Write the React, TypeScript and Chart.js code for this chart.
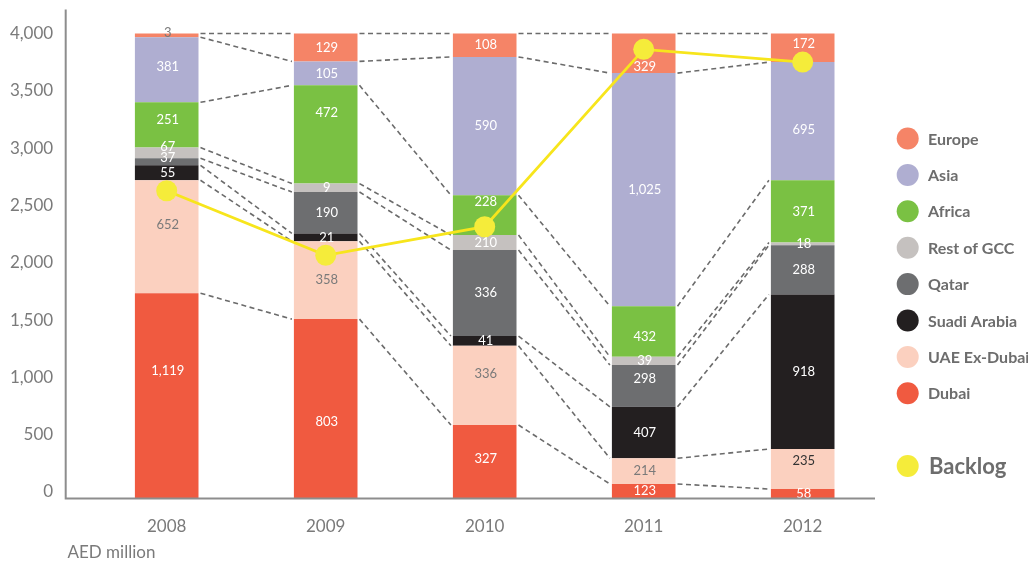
import React, { useEffect, useRef } from 'react';
import { Chart, registerables } from 'chart.js';

Chart.register(...registerables);

// ---- categories & ticks ----
const years = ['2008', '2009', '2010', '2011', '2012'];
const yTicks = [0, 500, 1000, 1500, 2000, 2500, 3000, 3500, 4000];

// ---- values printed on the segments (AED million) ----
const dubai = [1119, 803, 327, 123, 58];
const uaeExDubai = [652, 358, 336, 214, 235];
const saudiArabia = [55, 21, 41, 407, 918];
const qatar = [37, 190, 336, 298, 288];
const restOfGcc = [67, 9, 210, 39, 18];
const africa = [251, 472, 228, 432, 371];
const asia = [381, 105, 590, 1025, 695];
const europe = [3, 129, 108, 329, 172];

// ---- segment heights as drawn in the picture (read on the axis scale) ----
const dubaiBar = [1734, 1508, 584, 70, 26];
const uaeExDubaiBar = [985, 680, 691, 224, 349];
const saudiArabiaBar = [131, 67, 85, 449, 1348];
const qatarBar = [61, 362, 750, 364, 430];
const restOfGccBar = [93, 73, 131, 72, 23];
const africaBar = [395, 857, 348, 442, 543];
const asiaBar = [568, 209, 1206, 2033, 1031];
const europeBar = [33, 244, 205, 346, 250];

// ---- backlog line ----
const backlog = [2628, 2065, 2314, 3861, 3750];

const Y_MIN = -55;
const Y_MAX = 4200;

const series = [
  { name: 'Dubai', values: dubai, bars: dubaiBar, color: '#f05a40' },
  { name: 'UAE Ex-Dubai', values: uaeExDubai, bars: uaeExDubaiBar, color: '#fbd0bf' },
  { name: 'Suadi Arabia', values: saudiArabia, bars: saudiArabiaBar, color: '#231f20' },
  { name: 'Qatar', values: qatar, bars: qatarBar, color: '#6d6e70' },
  { name: 'Rest of GCC', values: restOfGcc, bars: restOfGccBar, color: '#c5c1bf' },
  { name: 'Africa', values: africa, bars: africaBar, color: '#7ac143' },
  { name: 'Asia', values: asia, bars: asiaBar, color: '#afaed1' },
  { name: 'Europe', values: europe, bars: europeBar, color: '#f58467' },
];

// small vertical nudges (px) for a few segment labels
const labelNudge: Record<string, number> = {
  'Europe 2008': -3,
  'Europe 2011': 14,
  'Europe 2012': -4,
  'Asia 2008': -3,
  'Asia 2012': 9,
  'Africa 2008': -5,
  'Africa 2009': -22,
  'Africa 2010': -13,
  'Africa 2011': 5,
  'Rest of GCC 2008': -6,
  'Qatar 2008': -3.5,
  'Qatar 2011': -7,
  'UAE Ex-Dubai 2008': -12,
  'UAE Ex-Dubai 2010': -12,
  'UAE Ex-Dubai 2012': -8,
  'Dubai 2008': -25,
  'Dubai 2009': 13,
  'Dubai 2010': -3,
};

const FONT = 'Lato, "Open Sans", sans-serif';
const GREY = '#7a7a7a';

function labelColor(name: string, yi: number): string {
  if (name === 'UAE Ex-Dubai') return yi === 4 ? '#333333' : GREY;
  if (name === 'Europe' && yi === 0) return GREY;
  return '#ffffff';
}

const decor = {
  id: 'decor',
  beforeDatasetsDraw(chart: any) {
    const ctx = chart.ctx;
    ctx.save();
    ctx.setLineDash([5, 3.5]);
    ctx.lineWidth = 1.6;
    ctx.strokeStyle = '#6b6b6b';
    series.forEach((_s, si) => {
      const meta = chart.getDatasetMeta(si);
      for (let j = 0; j < meta.data.length - 1; j++) {
        const a: any = meta.data[j];
        const b: any = meta.data[j + 1];
        ctx.beginPath();
        ctx.moveTo(a.x + a.width / 2 + 2, a.y);
        ctx.lineTo(b.x - b.width / 2 - 2, b.y);
        ctx.stroke();
      }
    });
    ctx.restore();
  },
  beforeDatasetDraw(chart: any, args: any) {
    if (args.meta.type !== 'line') return;
    const ctx = chart.ctx;
    ctx.save();
    ctx.font = `13px ${FONT}`;
    ctx.textAlign = 'center';
    ctx.textBaseline = 'middle';
    series.forEach((s, si) => {
      const meta = chart.getDatasetMeta(si);
      meta.data.forEach((el: any, yi: number) => {
        const key = `${s.name} ${years[yi]}`;
        const y = (el.y + el.base) / 2 + (labelNudge[key] || 0);
        ctx.fillStyle = labelColor(s.name, yi);
        ctx.fillText(s.values[yi].toLocaleString('en-US'), el.x + 1, y);
      });
    });
    ctx.restore();
  },
  afterDraw(chart: any) {
    const ctx = chart.ctx;
    const area = chart.chartArea;
    ctx.save();
    // axis lines
    ctx.strokeStyle = '#8d8d8d';
    ctx.lineWidth = 2;
    ctx.beginPath();
    ctx.moveTo(65.7, area.top - 1);
    ctx.lineTo(65.7, area.bottom + 1.2);
    ctx.moveTo(64.7, area.bottom + 0.3);
    ctx.lineTo(875, area.bottom + 0.3);
    ctx.stroke();

    // unit caption
    ctx.fillStyle = GREY;
    ctx.font = `17px ${FONT}`;
    ctx.textAlign = 'left';
    ctx.textBaseline = 'middle';
    ctx.fillText('AED million', 67.5, 552.5);

    // legend
    const items = [...series].reverse();
    items.forEach((s, i) => {
      const y = 138.5 + i * 36.4;
      ctx.fillStyle = s.color;
      ctx.beginPath();
      ctx.arc(907.7, y, 11, 0, Math.PI * 2);
      ctx.fill();
      ctx.fillStyle = '#6d6d6d';
      ctx.font = `bold 16px ${FONT}`;
      ctx.fillText(s.name, 928, y + 1);
    });
    ctx.fillStyle = '#f5ec3a';
    ctx.beginPath();
    ctx.arc(907.7, 466, 11, 0, Math.PI * 2);
    ctx.fill();
    ctx.fillStyle = '#6d6d6d';
    ctx.font = `bold 22px ${FONT}`;
    ctx.fillText('Backlog', 929, 467);
    ctx.restore();
  },
};

export default function App() {
  const canvasRef = useRef<HTMLCanvasElement | null>(null);

  useEffect(() => {
    const canvas = canvasRef.current;
    if (!canvas) return;
    const tickFont = { family: FONT, size: 17 };
    const chart = new Chart(canvas, {
      type: 'bar',
      data: {
        labels: years,
        datasets: [
          ...series.map((s, i) => ({
            type: 'bar' as const,
            label: s.name,
            data: s.bars,
            backgroundColor: s.color,
            borderWidth: 0,
            order: 1,
            stack: 'regions',
            barPercentage: 0.4,
            categoryPercentage: 1,
            ...(i === 0 ? { base: Y_MIN } : {}),
          })),
          {
            type: 'line' as const,
            label: 'Backlog',
            data: backlog,
            borderColor: '#f7e51c',
            borderWidth: 2.8,
            pointRadius: 10.5,
            pointHoverRadius: 10.5,
            pointBackgroundColor: '#f5ec3a',
            pointBorderColor: '#f5ec3a',
            pointBorderWidth: 0,
            tension: 0,
            order: 0,
            stack: 'backlog',
          },
        ],
      } as any,
      options: {
        responsive: false,
        animation: false,
        devicePixelRatio: 1,
        layout: { padding: { top: 10, right: 145.8, left: 0, bottom: 0 } },
        plugins: { legend: { display: false }, tooltip: { enabled: false } },
        scales: {
          x: {
            stacked: true,
            grid: { display: false, drawTicks: false },
            border: { display: false },
            ticks: { font: tickFont, color: GREY, padding: 18, maxRotation: 0 },
            afterFit: (s: any) => {
              s.height = 65.7;
              s.paddingLeft = 0;
              s.paddingRight = 0;
            },
          },
          y: {
            stacked: true,
            min: Y_MIN,
            max: Y_MAX,
            grid: { display: false, drawTicks: false },
            border: { display: false },
            ticks: {
              font: tickFont,
              color: GREY,
              padding: 34,
              callback: (v: any) => Number(v).toLocaleString('en-US'),
            },
            afterBuildTicks: (s: any) => {
              s.ticks = yTicks.map((v) => ({ value: v }));
            },
            afterFit: (s: any) => {
              s.width = 87.2;
              s.paddingTop = 0;
              s.paddingBottom = 0;
            },
          },
        },
      } as any,
      plugins: [decor],
    });
    return () => chart.destroy();
  }, []);

  return (
    <div style={{ position: 'absolute', left: 0, top: 0, width: 1028, height: 564, background: '#ffffff' }}>
      <canvas ref={canvasRef} width={1028} height={564} style={{ display: 'block' }} />
    </div>
  );
}
